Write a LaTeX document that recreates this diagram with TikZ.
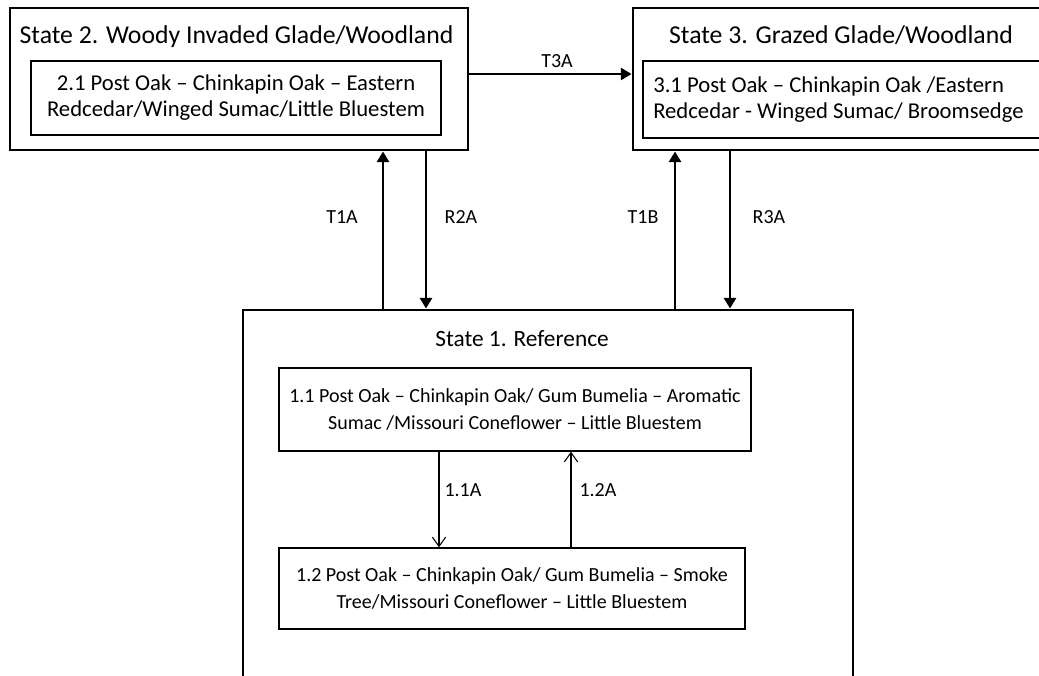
\documentclass[tikz,border=0pt]{standalone}
\usepackage{fontspec}
\setmainfont{Carlito}
\usetikzlibrary{arrows.meta}
\tikzset{
  outerbox/.style={draw, line width=2.2pt, inner sep=0pt},
  innerbox/.style={draw, line width=1pt, align=center, inner sep=0pt, font=\fontsize{15}{20.5}\selectfont},
  bigtext/.style={font=\fontsize{17}{19.5}\selectfont},
  titletext/.style={anchor=base, font=\fontsize{19.3}{23}\selectfont},
  lbl/.style={font=\fontsize{15}{18}\selectfont},
  bigarrow/.style={line width=2.2pt, -{Triangle[length=8pt,width=9pt]}},
  smallarrow/.style={line width=0.8pt, -{Straight Barb[length=7pt,width=10pt]}}
}
\begin{document}
\begin{tikzpicture}[x=0.75pt,y=-0.75pt]
\useasboundingbox (0,0) rectangle (1039,675);
\clip (0,0) rectangle (1039,675);
\fill[white] (0,0) rectangle (1039,675);
% outer state boxes
\node[outerbox, minimum width=343.5pt, minimum height=106.5pt] (s2) at (239,79) {};
\node[outerbox, minimum width=309pt, minimum height=106.5pt] (s3) at (839,79) {};
\node[outerbox, minimum width=457.5pt, minimum height=300pt] (s1) at (548,510) {};
% titles
\node[titletext] (t2) at (236.5,43) {State 2. Woody Invaded Glade/Woodland};
\node[titletext] (t3) at (841,43) {State 3. Grazed Glade/Woodland};
\node[titletext, font=\fontsize{17.5}{21}\selectfont] (t1) at (522,346) {State 1. Reference};
% inner community boxes
\node[innerbox, bigtext, minimum width=307.5pt, minimum height=55.5pt] (b21) at (236,98)
  {2.1 Post Oak -- Chinkapin Oak -- Eastern\\Redcedar/Winged Sumac/Little Bluestem};
\node[innerbox, minimum width=301.5pt, minimum height=57.75pt] (b31) at (844,99.5) {};
\node[bigtext, anchor=west, align=left, inner sep=0pt] (b31t) at (653,100)
  {3.1 Post Oak -- Chinkapin Oak /Eastern\\Redcedar - Winged Sumac/ Broomsedge};
\node[innerbox, minimum width=354pt, minimum height=62.25pt] (b11) at (515,409.5)
  {1.1 Post Oak -- Chinkapin Oak/ Gum Bumelia -- Aromatic\\Sumac /Missouri Coneflower -- Little Bluestem};
\node[innerbox, minimum width=349.5pt, minimum height=60.75pt] (b12) at (512,588.5)
  {1.2 Post Oak -- Chinkapin Oak/ Gum Bumelia -- Smoke\\Tree/Missouri Coneflower -- Little Bluestem};
% transitions between states
\draw[bigarrow, line width=1.8pt] (s2.east |- 0,74) -- (s3.west |- 0,74);
\draw[bigarrow] (s1.north -| 383,0) -- (s2.south -| 383,0);
\draw[bigarrow] (s2.south -| 426,0) -- (s1.north -| 426,0);
\draw[bigarrow] (s1.north -| 675,0) -- (s3.south -| 675,0);
\draw[bigarrow] (s3.south -| 730,0) -- (s1.north -| 730,0);
% community pathways
\draw[smallarrow] (b11.south -| 439,0) -- (b12.north -| 439,0);
\draw[smallarrow] (b12.north -| 571,0) -- (b11.south -| 571,0);
% labels
\node[lbl] (lt3a) at (557,61) {T3A};
\node[lbl] (lt1a) at (342,217) {T1A};
\node[lbl] (lr2a) at (461,217) {R2A};
\node[lbl] (lt1b) at (643,217) {T1B};
\node[lbl] (lr3a) at (769,217) {R3A};
\node[lbl] (l11a) at (463,490) {1.1A};
\node[lbl] (l12a) at (598,490) {1.2A};
\end{tikzpicture}
\end{document}
